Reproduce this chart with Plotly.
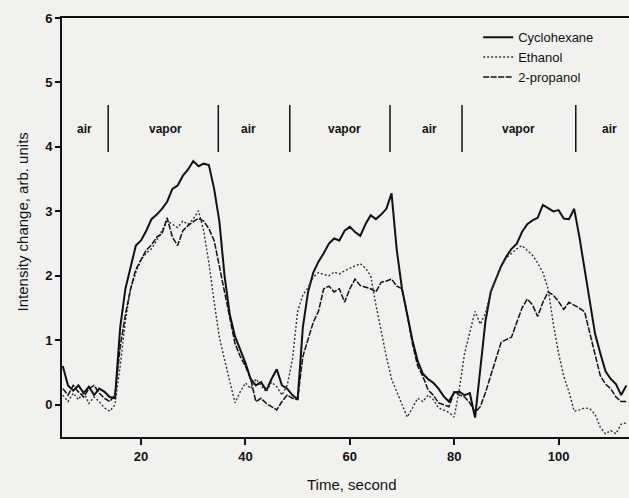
import plotly.graph_objects as go

# ---------------- data ----------------
time_s = list(range(5, 114))  # seconds, 1 s step

cyclohexane = [
    0.60, 0.30, 0.22, 0.30, 0.18, 0.28, 0.15, 0.25, 0.20, 0.12,   # 5-14
    0.10, 1.20, 1.80, 2.15, 2.47, 2.55, 2.70, 2.88, 2.95, 3.04,   # 15-24
    3.15, 3.35, 3.40, 3.55, 3.65, 3.78, 3.70, 3.74, 3.72, 3.35,   # 25-34
    2.85, 2.00, 1.40, 1.06, 0.85, 0.65, 0.40, 0.30, 0.35, 0.22,   # 35-44
    0.40, 0.55, 0.30, 0.25, 0.15, 0.08, 1.20, 1.75, 2.05, 2.22,   # 45-54
    2.35, 2.50, 2.58, 2.55, 2.70, 2.76, 2.68, 2.62, 2.80, 2.94,   # 55-64
    2.88, 2.95, 3.04, 3.28, 2.40, 1.80, 1.40, 1.00, 0.68, 0.48,   # 65-74
    0.40, 0.34, 0.25, 0.13, 0.05, 0.19, 0.20, 0.15, 0.18, -0.20,  # 75-84
    0.55, 1.30, 1.75, 1.95, 2.15, 2.30, 2.42, 2.50, 2.68, 2.80,   # 85-94
    2.86, 2.90, 3.10, 3.05, 3.00, 3.02, 2.89, 2.88, 3.04, 2.60,   # 95-104
    2.10, 1.55, 1.10, 0.80, 0.52, 0.40, 0.32, 0.15, 0.30,         # 105-113
]

ethanol = [
    0.15, 0.05, 0.18, 0.08, 0.20, 0.02, 0.12, 0.05, -0.05, -0.10,  # 5-14
    0.00, 0.60, 1.30, 1.80, 2.05, 2.25, 2.35, 2.42, 2.55, 2.70,    # 15-24
    2.85, 2.80, 2.75, 2.85, 2.80, 2.88, 3.01, 2.70, 2.20, 1.60,    # 25-34
    1.05, 0.70, 0.34, 0.03, 0.20, 0.34, 0.25, 0.40, 0.30, 0.20,    # 35-44
    0.35, 0.28, 0.15, 0.30, 0.70, 1.45, 1.70, 1.82, 1.98, 2.05,    # 45-54
    2.02, 2.00, 2.06, 2.03, 2.08, 2.12, 2.15, 2.19, 2.12, 2.00,    # 55-64
    1.55, 1.12, 0.75, 0.40, 0.20, -0.02, -0.19, -0.05, 0.10, 0.05, # 65-74
    0.15, 0.08, -0.05, -0.08, -0.12, -0.19, 0.25, 0.80, 1.12, 1.45,# 75-84
    1.25, 1.42, 1.75, 1.95, 2.15, 2.28, 2.35, 2.42, 2.47, 2.40,    # 85-94
    2.32, 2.20, 2.05, 1.80, 1.25, 0.80, 0.44, 0.20, -0.10, -0.08,  # 95-104
    -0.05, -0.06, -0.15, -0.35, -0.45, -0.40, -0.45, -0.30, -0.28, # 105-113
]

propanol = [
    0.25, 0.15, 0.30, 0.20, 0.12, 0.25, 0.30, 0.18, 0.10, 0.05,   # 5-14
    0.15, 0.90, 1.40, 1.80, 2.10, 2.25, 2.40, 2.48, 2.60, 2.65,   # 15-24
    2.90, 2.60, 2.47, 2.70, 2.78, 2.84, 2.89, 2.85, 2.73, 2.55,   # 25-34
    2.15, 1.70, 1.30, 0.95, 0.75, 0.60, 0.40, 0.05, 0.10, 0.02,   # 35-44
    -0.03, -0.08, 0.05, 0.15, 0.10, 0.08, 0.75, 1.00, 1.28, 1.45, # 45-54
    1.80, 1.84, 1.75, 1.80, 1.59, 1.80, 1.95, 1.85, 1.82, 1.80,   # 55-64
    1.75, 1.90, 1.92, 1.95, 1.84, 1.80, 1.40, 0.95, 0.60, 0.44,   # 65-74
    0.23, 0.15, 0.03, 0.00, -0.03, 0.20, 0.15, 0.12, 0.03, -0.12, # 75-84
    -0.03, 0.19, 0.44, 0.70, 0.97, 1.01, 1.05, 1.28, 1.50, 1.64,  # 85-94
    1.55, 1.37, 1.59, 1.75, 1.70, 1.60, 1.48, 1.59, 1.55, 1.50,   # 95-104
    1.44, 1.10, 0.75, 0.45, 0.32, 0.25, 0.12, 0.05, 0.05,         # 105-113
]

phase_boundaries = [13.7, 34.8, 48.5, 67.7, 81.5, 103.3]
phase_labels = ["air", "vapor", "air", "vapor", "air", "vapor", "air"]
phase_label_times = [9.1, 24.6, 40.5, 58.9, 75.2, 92.4, 109.8]

x_ticks = [20, 40, 60, 80, 100]
y_ticks = [0, 1, 2, 3, 4, 5, 6]

FONT = "Arial, Liberation Sans, sans-serif"
INK = "#111111"
BG = "#f1f1ef"

# ---------------- figure ----------------
fig = go.Figure()
fig.add_trace(go.Scatter(x=time_s, y=cyclohexane, mode="lines", name="Cyclohexane",
                         line=dict(color=INK, width=2.0)))
fig.add_trace(go.Scatter(x=time_s, y=ethanol, mode="lines", name="Ethanol",
                         line=dict(color="#333333", width=1.4, dash="2px,2px")))
fig.add_trace(go.Scatter(x=time_s, y=propanol, mode="lines", name="2-propanol",
                         line=dict(color=INK, width=1.5, dash="6px,1.5px")))

for tb in phase_boundaries:
    fig.add_shape(type="line", xref="x", yref="y", x0=tb, x1=tb, y0=3.92, y1=4.65,
                  line=dict(color=INK, width=1.5))
for lbl, tl in zip(phase_labels, phase_label_times):
    fig.add_annotation(x=tl, y=4.28, xref="x", yref="y", text=lbl, showarrow=False,
                       font=dict(family=FONT, size=12, color=INK, weight="bold"))

fig.add_annotation(xref="paper", yref="paper", x=0, y=0.512, xshift=-40,
                   text="Intensity change, arb. units", textangle=-90, showarrow=False,
                   xanchor="center", yanchor="middle",
                   font=dict(family=FONT, size=15, color=INK))
fig.add_annotation(xref="paper", yref="paper", x=0.51, y=0, yshift=-47,
                   text="Time, second", showarrow=False, xanchor="center", yanchor="middle",
                   font=dict(family=FONT, size=15, color=INK))

fig.update_layout(
    width=629, height=498,
    margin=dict(l=62, r=0, t=18, b=61),
    paper_bgcolor=BG, plot_bgcolor=BG,
    font=dict(family=FONT, color=INK),
    showlegend=True,
    legend=dict(x=0.734, y=0.99, xanchor="left", yanchor="top",
                bgcolor="rgba(0,0,0,0)", font=dict(family=FONT, size=13, color=INK),
                tracegroupgap=0, itemwidth=30),
    xaxis=dict(range=[4.85, 113.5], tickvals=x_ticks, ticks="outside", ticklen=6,
               tickwidth=1.5, tickcolor=INK, showline=True, linecolor=INK, linewidth=2,
               mirror=True, showgrid=False, zeroline=False,
               tickfont=dict(family=FONT, size=13, color=INK, weight="bold")),
    yaxis=dict(range=[-0.5, 6], tickvals=y_ticks, ticks="outside", ticklen=5,
               tickwidth=1.5, tickcolor=INK, showline=True, linecolor=INK, linewidth=2,
               showgrid=False, zeroline=False,
               tickfont=dict(family=FONT, size=13, color=INK, weight="bold")),
)

fig.write_html(
    "out.html",
    config={"displayModeBar": False},
    post_script="document.body.style.margin='0';document.body.style.padding='0';"
                "document.body.style.overflow='hidden';"
                "document.body.style.background='" + BG + "';",
)
